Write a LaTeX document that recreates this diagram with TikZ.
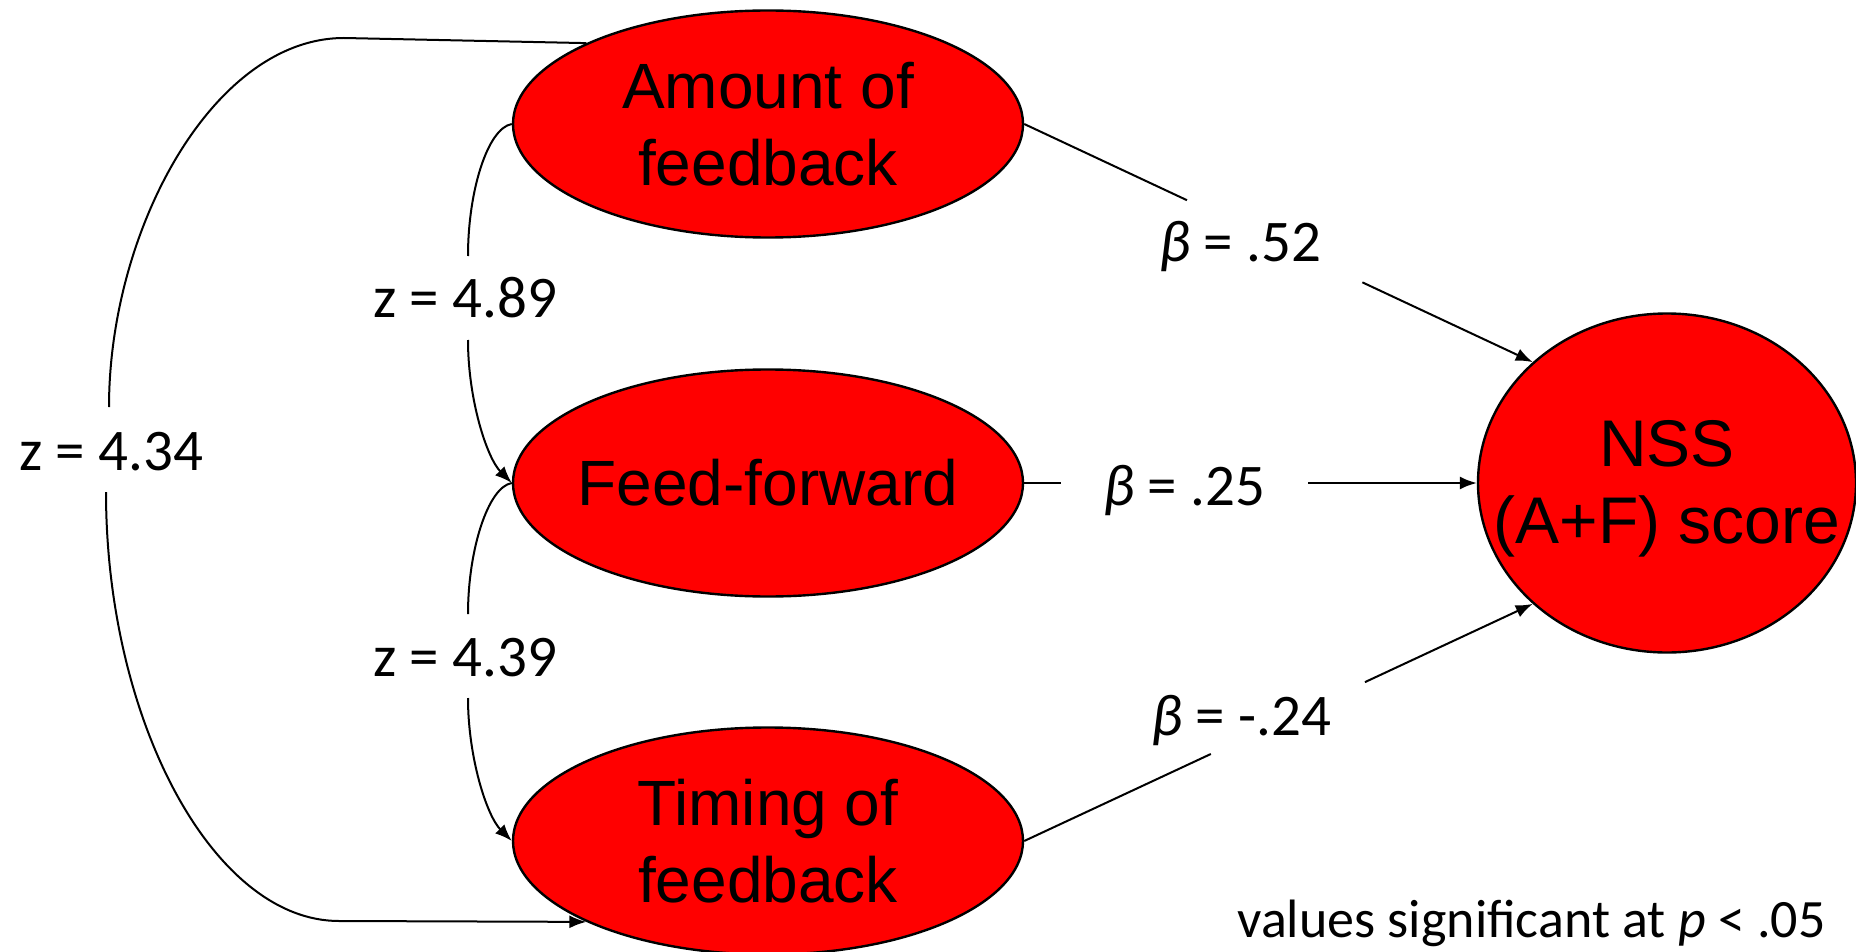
\documentclass[tikz,border=0pt]{standalone}
\usepackage{fontspec}
\setmainfont{Liberation Sans}
\newfontfamily\labfont{Carlito}
\usetikzlibrary{arrows.meta,shapes.geometric,calc}
\begin{document}
\begin{tikzpicture}[x=0.5pt,y=-0.5pt,
  ell/.style={ellipse, draw=black, line width=1.2pt, fill=red, inner sep=0pt},
  big/.style={font=\fontsize{32}{38.5}\selectfont, align=center, inner sep=0pt},
  coef/.style={font=\labfont\fontsize{29.5}{34}\selectfont, anchor=base, inner sep=0pt},
  conn/.style={line width=1pt, draw=black},
  arr/.style={conn, -{Latex[length=8.5pt,width=6.5pt]}},
]
\useasboundingbox (0,0) rectangle (1856,952);

% nodes
\node[ell, minimum width=255pt, minimum height=113.5pt] (amount) at (768,124) {};
\node[big] (amountt) at (amount.center) {Amount of\\feedback};
\node[ell, minimum width=255pt, minimum height=113.5pt] (ff) at (768,483) {};
\node[big] (fft) at (ff.center) {Feed-forward};
\node[ell, minimum width=255pt, minimum height=113.5pt] (timing) at (768,841) {};
\node[big] (timingt) at (timing.center) {Timing of\\feedback};
\node[ell, minimum width=189pt, minimum height=169.5pt] (nss) at (1667,483) {};
\node[big, font=\fontsize{33}{38.5}\selectfont, yshift=-3pt] (nsst) at (nss.center) {NSS\\(A+F) score};

% gap coordinates
\coordinate (t1) at (344,38);
\coordinate (b1) at (339,921);
\coordinate (g434a) at (109,407);
\coordinate (g434b) at (106,492);
\coordinate (g489a) at (468,256);
\coordinate (g489b) at (468,340);
\coordinate (g439a) at (468,614);
\coordinate (g439b) at (468,698);
\coordinate (g52a) at ($(amount.east)!0.32!(nss.138)$);
\coordinate (g52b) at ($(amount.east)!0.665!(nss.138)$);
\coordinate (g25a) at (1061,483);
\coordinate (g25b) at (1308,483);
\coordinate (g24a) at ($(timing.east)!0.367!(nss.222)$);
\coordinate (g24b) at ($(timing.east)!0.67!(nss.222)$);

% connectors
\draw[conn] (amount.156) -- (t1) .. controls (213,38) and (109,230) .. (g434a);
\draw[arr] (g434b) .. controls (106,720) and (213,921) .. (b1) -- (timing.204);

\draw[conn] (amount.west) .. controls (488,128) and (468,190) .. (g489a);
\draw[arr] (g489b) .. controls (468,400) and (487,458) .. (ff.west);

\draw[conn] (ff.west) .. controls (488,487) and (468,550) .. (g439a);
\draw[arr] (g439b) .. controls (468,758) and (487,816) .. (timing.west);

\draw[conn] (amount.east) -- (g52a);
\draw[arr] (g52b) -- (nss.138);
\draw[conn] (ff.east) -- (g25a);
\draw[arr] (g25b) -- (nss.west);
\draw[conn] (timing.east) -- (g24a);
\draw[arr] (g24b) -- (nss.222);

% labels
\node[coef] (z434) at (111,470) {z = 4.34};
\node[coef] (z489) at (465,317) {z = 4.89};
\node[coef] (z439) at (465,676) {z = 4.39};
\node[coef] (b52) at (1240,262) {{\itshape β} = .52};
\node[coef] (b25) at (1184,505) {{\itshape β} = .25};
\node[coef] (b24) at (1241,735) {{\itshape β} = -.24};
\node[font=\labfont\fontsize{27}{31}\selectfont, anchor=base east, inner sep=0pt] (note) at (1826,937) {values significant at {\itshape p} < .05};
\end{tikzpicture}
\end{document}
